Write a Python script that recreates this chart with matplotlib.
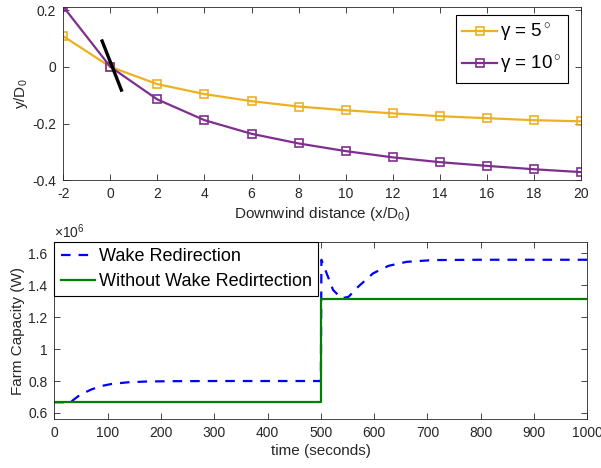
import numpy as np
import matplotlib.pyplot as plt
from matplotlib.ticker import FuncFormatter

plt.rcParams['font.family'] = ['Liberation Sans', 'DejaVu Sans']
plt.rcParams['mathtext.fontset'] = 'custom'
plt.rcParams['mathtext.rm'] = 'Liberation Sans'
plt.rcParams['mathtext.it'] = 'Liberation Sans:italic'
plt.rcParams['axes.unicode_minus'] = False

# wake deflection data
x_dist = [-2, 0, 2, 4, 6, 8, 10, 12, 14, 16, 18, 20]
y_gamma5 = [0.108, 0.0, -0.061, -0.096, -0.121, -0.140, -0.153, -0.164, -0.174, -0.181, -0.188, -0.192]
y_gamma10 = [0.212, 0.0, -0.115, -0.188, -0.236, -0.270, -0.297, -0.319, -0.336, -0.349, -0.361, -0.371]
turbine_x = [-0.35, 0.47]
turbine_y = [0.091, -0.082]

# farm capacity data (MW)
t_wake = [0, 30, 48, 70, 90, 108, 138, 173, 220, 300, 400, 500, 501,
          523, 539, 552, 570, 598, 627, 661, 711, 800, 1000]
p_wake = [0.667, 0.667, 0.713, 0.748, 0.770, 0.782, 0.792, 0.797, 0.799, 0.80, 0.80, 0.80, 1.56,
          1.37, 1.318, 1.328, 1.391, 1.475, 1.522, 1.547, 1.558, 1.56, 1.56]
t_base = [0, 500, 500, 1000]
p_base = [0.667, 0.667, 1.312, 1.312]

txt = '#262626'


def style(ax):
    ax.tick_params(direction='in', top=True, right=True, length=4, width=0.6,
                   labelsize=10, colors=txt, pad=5)
    for s in ax.spines.values():
        s.set_linewidth(0.6)
        s.set_color(txt)


def main():
    fig = plt.figure(figsize=(6.01, 4.68), dpi=100)

    ## wake deflection
    ax = fig.add_axes([0.1053, 0.6147, 0.8614, 0.371])
    ax.plot(x_dist, y_gamma5, color='#EDB120', lw=1.6, marker='s', ms=5.5,
            mfc='none', mew=1.2, label='γ = 5$^\\circ$')
    ax.plot(x_dist, y_gamma10, color='#7E2F8E', lw=1.6, marker='s', ms=5.5,
            mfc='none', mew=1.2, label='γ = 10$^\\circ$')
    ax.plot(turbine_x, turbine_y, color='black', lw=2.4)
    ax.set_xlim(-2, 20)
    ax.set_ylim(-0.4, 0.212)
    ax.set_xticks(np.arange(-2, 21, 2))
    ax.set_yticks([-0.4, -0.2, 0, 0.2])
    ax.yaxis.set_major_formatter(FuncFormatter(lambda v, p: f'{v:g}'))
    ax.set_xlabel('Downwind distance (x/D$_0$)', fontsize=11, color=txt, labelpad=3)
    ax.set_ylabel('y/D$_0$', fontsize=11, color=txt, labelpad=2)
    style(ax)
    leg = ax.legend(loc='upper right', bbox_to_anchor=(0.975, 0.952), fontsize=13.5,
                    fancybox=False, framealpha=1, edgecolor='black', borderaxespad=0,
                    handlelength=1.85, handletextpad=0.15, borderpad=0.35,
                    labelspacing=0.55)
    leg.get_frame().set_linewidth(0.8)

    ## farm capacity
    ax = fig.add_axes([0.0904, 0.104, 0.887, 0.3795])
    ax.plot(t_wake, np.array(p_wake) * 1e6, color='blue', lw=1.6,
            dashes=(4.3, 3.6), label='Wake Redirection')
    ax.plot(t_base, np.array(p_base) * 1e6, color='#008000', lw=1.6,
            label='Without Wake Redirtection')
    ax.set_xlim(0, 1000)
    ax.set_ylim(0.56e6, 1.673e6)
    ax.set_xticks(np.arange(0, 1001, 100))
    ax.set_yticks(np.arange(0.6e6, 1.61e6, 0.2e6))
    ax.yaxis.set_major_formatter(FuncFormatter(lambda v, p: f'{v / 1e6:g}'))
    ax.text(0.0, 1.005, r'$\times$10$^6$', transform=ax.transAxes, fontsize=10,
            color=txt, ha='left', va='bottom')
    ax.set_xlabel('time (seconds)', fontsize=11, color=txt, labelpad=3)
    ax.set_ylabel('Farm Capacity (W)', fontsize=11, color=txt, labelpad=2)
    style(ax)
    leg = ax.legend(loc='upper left', fontsize=13, fancybox=False, framealpha=1,
                    edgecolor='black', borderaxespad=0, handlelength=1.9,
                    handletextpad=0.2, borderpad=0.35, labelspacing=0.45)
    leg.get_frame().set_linewidth(0.8)

    fig.savefig('out.png', dpi=100)
    plt.close()


if __name__ == "__main__":
    main()
